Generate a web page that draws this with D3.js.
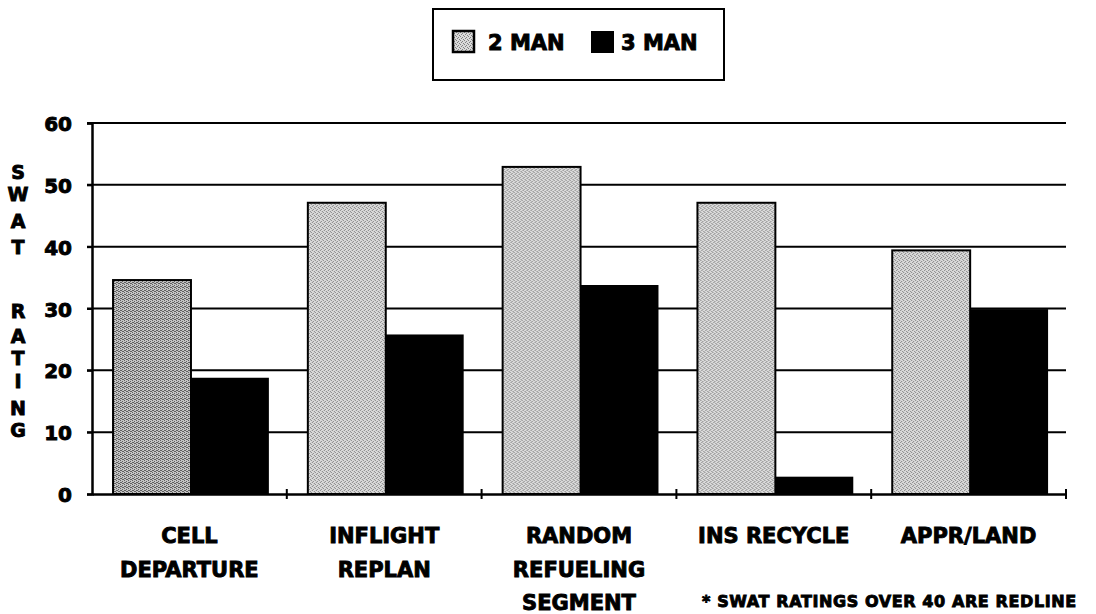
<!DOCTYPE html>
<html><head><meta charset="utf-8">
<script src="https://cdn.jsdelivr.net/npm/d3@7"></script>
<style>
html,body{margin:0;padding:0;background:#fff;}
text{font-family:"DejaVu Sans",sans-serif;font-weight:bold;fill:#000;stroke:#000;stroke-width:0.9px;}
</style></head>
<body>
<svg id="c" width="1096" height="614"></svg>
<script>
const categories = [["CELL","DEPARTURE"],["INFLIGHT","REPLAN"],["RANDOM","REFUELING"],["INS RECYCLE"],["APPR/LAND"]];
const seriesNames = ["2 MAN","3 MAN"];
const twoMan = [34.6, 47.1, 52.9, 47.1, 39.4];
const threeMan = [18.8, 25.8, 33.8, 2.8, 29.9];
const yTicks = [0,10,20,30,40,50,60];
const yTitle1 = ["S","W","A","T"];
const yTitle2 = ["R","A","T","I","N","G"];
const xTitle = "SEGMENT";
const footnote = "* SWAT RATINGS OVER 40 ARE REDLINE";

const svg = d3.select("#c");
const defs = svg.append("defs");
const pat = defs.append("pattern").attr("id","stip").attr("patternUnits","userSpaceOnUse").attr("width",4).attr("height",4);
pat.append("rect").attr("width",4).attr("height",4).attr("fill","#dadada");
[[0,0],[2,1],[1,2],[3,3]].forEach(p=>pat.append("rect").attr("x",p[0]).attr("y",p[1]).attr("width",1).attr("height",1).attr("fill","#808080"));
const pat2 = defs.append("pattern").attr("id","stipD").attr("patternUnits","userSpaceOnUse").attr("width",4).attr("height",4);
pat2.append("rect").attr("width",4).attr("height",4).attr("fill","#c4c4c4");
[[0,0],[2,1],[1,2],[3,3],[2,3],[0,2]].forEach(p=>pat2.append("rect").attr("x",p[0]).attr("y",p[1]).attr("width",1).attr("height",1).attr("fill","#606060"));

const x0 = d3.scaleBand().domain(d3.range(categories.length)).range([92,1066]);
const bw = x0.bandwidth();
const x1 = d3.scaleBand().domain(seriesNames).range([bw*0.108, bw*0.908]);
const y = d3.scaleLinear().domain([0,60]).range([494,123]);

// gridlines
svg.append("g").selectAll("line").data(yTicks.filter(d=>d>0)).join("line")
  .attr("x1",87).attr("x2",1066).attr("y1",d=>y(d)).attr("y2",d=>y(d))
  .attr("stroke","#000").attr("stroke-width",2);

// bars
const data = categories.map((c,i)=>({i, vals:[twoMan[i],threeMan[i]]}));
const g = svg.append("g").selectAll("g").data(data).join("g").attr("transform",d=>`translate(${x0(d.i)},0)`);
g.append("rect").attr("x",x1("2 MAN")).attr("width",x1.bandwidth())
  .attr("y",d=>y(d.vals[0])).attr("height",d=>y(0)-y(d.vals[0]))
  .attr("fill",d=>d.i===0?"url(#stipD)":"url(#stip)").attr("stroke","#000").attr("stroke-width",2);
g.append("rect").attr("x",x1("3 MAN")).attr("width",x1.bandwidth())
  .attr("y",d=>y(d.vals[1])).attr("height",d=>y(0)-y(d.vals[1]))
  .attr("fill","#000");

// y axis
const ya = svg.append("g").attr("transform","translate(92,0)")
  .call(d3.axisLeft(y).tickValues(yTicks).tickSize(5).tickPadding(15));
ya.select(".domain").attr("stroke","#000").attr("stroke-width",2.5);
ya.selectAll(".tick line").attr("stroke","#000").attr("stroke-width",2);
ya.selectAll(".tick text").style("font-size","20px").style("font-family","DejaVu Sans").style("font-weight","bold").attr("dy","0.38em");

// x axis
const xa = svg.append("g").attr("transform",`translate(0,${y(0)})`)
  .call(d3.axisBottom(x0).tickValues([]).tickSizeOuter(0));
xa.select(".domain").attr("stroke","#000").attr("stroke-width",2.5);
const bounds = d3.range(1,categories.length+1).map(i=>92+bw*i);
xa.selectAll("line.tk").data(bounds).join("line").attr("class","tk")
  .attr("x1",d=>d).attr("x2",d=>d).attr("y1",-5).attr("y2",5).attr("stroke","#000").attr("stroke-width",2);

// category labels
categories.forEach((c,i)=>{
  c.forEach((line,k)=>{
    svg.append("text").attr("x",x0(i)+bw/2).attr("y",543+k*34).attr("text-anchor","middle")
      .style("font-size","21px").text(line);
  });
});
svg.append("text").attr("x",x0(2)+bw/2).attr("y",610).attr("text-anchor","middle").style("font-size","21px").text(xTitle);
svg.append("text").attr("x",702).attr("y",607).style("font-size","16px").style("letter-spacing","0.6px").text(footnote);

// y title
const ty1 = [172,194,221,247];
const ty2 = [311,336,358,381,408,430];
yTitle1.forEach((l,i)=>svg.append("text").attr("x",18).attr("y",ty1[i]).attr("dy","0.36em").attr("text-anchor","middle").style("font-size","19px").text(l));
yTitle2.forEach((l,i)=>svg.append("text").attr("x",18).attr("y",ty2[i]).attr("dy","0.36em").attr("text-anchor","middle").style("font-size","19px").text(l));

// legend
const lg = svg.append("g");
lg.append("rect").attr("x",433).attr("y",9).attr("width",291).attr("height",71).attr("fill","none").attr("stroke","#000").attr("stroke-width",2);
lg.append("rect").attr("x",453).attr("y",31).attr("width",21).attr("height",21).attr("fill","url(#stip)").attr("stroke","#000").attr("stroke-width",2.5);
lg.append("text").attr("x",488).attr("y",42).attr("dy","0.36em").style("font-size","21px").text(seriesNames[0]);
lg.append("rect").attr("x",591).attr("y",31).attr("width",23).attr("height",22).attr("fill","#000");
lg.append("text").attr("x",621).attr("y",42).attr("dy","0.36em").style("font-size","21px").text(seriesNames[1]);
</script>
</body></html>
